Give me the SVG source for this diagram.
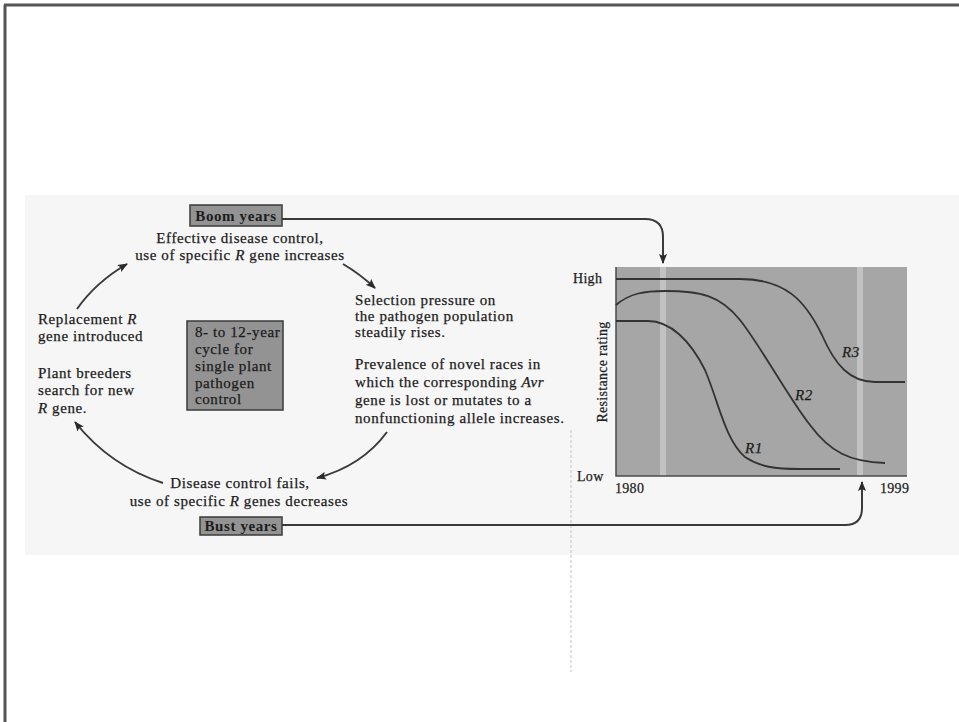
<svg xmlns="http://www.w3.org/2000/svg" width="959" height="722" viewBox="0 0 959 722">
  <defs>
    <marker id="head" viewBox="0 0 10 8" refX="9" refY="4" markerWidth="10" markerHeight="8" markerUnits="userSpaceOnUse" orient="auto">
      <path d="M0,0 L10,4 L0,8 L2,4 Z" fill="#2a2a2a"/>
    </marker>
    <style>
      text { font-family: "Liberation Serif", "Times New Roman", serif; font-size: 15px; fill: #1c1c1c; stroke: #1c1c1c; stroke-width: 0.25px; letter-spacing: 0.6px; }
      .mid { text-anchor: middle; }
      .tag { font-weight: bold; stroke-width: 0; }
      .box { fill: #939393; stroke: #3a3a3a; stroke-width: 1.5; }
      .link { fill: none; stroke: #3a3a3a; stroke-width: 2; marker-end: url(#head); }
      .curve { fill: none; stroke: #333; stroke-width: 1.8; }
      .ax { font-size: 14px; letter-spacing: 0.3px; }
    </style>
  </defs>

  <!-- page -->
  <rect x="0" y="0" width="959" height="722" fill="#ffffff"/>
  <rect x="25" y="195" width="934" height="360" fill="#f6f6f6"/>
  <path d="M4,5 H959 M5,5 V722" fill="none" stroke="#555" stroke-width="3"/>
  <line x1="571" y1="430" x2="571" y2="672" stroke="#c4c4c4" stroke-width="1" stroke-dasharray="3 2"/>

  <!-- cycle -->
  <g id="boom">
    <rect class="box" x="190" y="205" width="92" height="21"/>
    <text class="tag mid" x="236" y="221">Boom years</text>
  </g>
  <g id="effective">
    <text class="mid" x="240" y="243">Effective disease control,</text>
    <text class="mid" x="240" y="260">use of specific <tspan font-style="italic">R</tspan> gene increases</text>
  </g>
  <g id="selection">
    <text x="355" y="305">Selection pressure on</text>
    <text x="355" y="321">the pathogen population</text>
    <text x="355" y="337">steadily rises.</text>
  </g>
  <g id="prevalence">
    <text x="355" y="369">Prevalence of novel races in</text>
    <text x="355" y="387">which the corresponding <tspan font-style="italic">Avr</tspan></text>
    <text x="355" y="405">gene is lost or mutates to a</text>
    <text x="355" y="423">nonfunctioning allele increases.</text>
  </g>
  <g id="fails">
    <text class="mid" x="240" y="488">Disease control fails,</text>
    <text class="mid" x="239" y="506">use of specific <tspan font-style="italic">R</tspan> genes decreases</text>
  </g>
  <g id="bust">
    <rect class="box" x="200" y="517" width="82" height="18"/>
    <text class="tag mid" x="241" y="531">Bust years</text>
  </g>
  <g id="breeders">
    <text x="38" y="378">Plant breeders</text>
    <text x="38" y="395">search for new</text>
    <text x="38" y="413"><tspan font-style="italic">R</tspan> gene.</text>
  </g>
  <g id="replacement">
    <text x="38" y="324">Replacement <tspan font-style="italic">R</tspan></text>
    <text x="38" y="341">gene introduced</text>
  </g>
  <g id="cycle-length">
    <rect class="box" x="187" y="321" width="96" height="89"/>
    <text x="195" y="337">8- to 12-year</text>
    <text x="195" y="354">cycle for</text>
    <text x="195" y="371">single plant</text>
    <text x="195" y="388">pathogen</text>
    <text x="195" y="404">control</text>
  </g>

  <!-- resistance chart -->
  <g id="chart">
    <rect x="616" y="267" width="291" height="209" fill="#a6a6a6"/>
    <rect x="660" y="267" width="6" height="209" fill="#c2c2c2"/>
    <rect x="857" y="267" width="6" height="209" fill="#c2c2c2"/>
    <path d="M616,267 V476 H907" fill="none" stroke="#4a4a4a" stroke-width="1.5"/>
    <path class="curve" d="M616,279 H740 C785,279 805,300 822,335 C835,365 850,382 875,382 H905"/>
    <path class="curve" d="M616,305 C630,293 645,291 665,291 C700,291 720,295 740,320 C760,345 790,400 810,425 C830,452 850,462 885,463"/>
    <path class="curve" d="M616,321 H648 C670,321 690,340 705,370 C718,400 725,440 745,457 C760,467 775,469 800,469 H840"/>
    <text x="842" y="357" font-style="italic">R3</text>
    <text x="795" y="400" font-style="italic">R2</text>
    <text x="745" y="453" font-style="italic">R1</text>
    <text class="ax" x="573" y="283">High</text>
    <text class="ax" x="577" y="481">Low</text>
    <text class="ax" x="615" y="493">1980</text>
    <text class="ax" x="880" y="493">1999</text>
    <text class="ax mid" transform="translate(607,372) rotate(-90)">Resistance rating</text>
  </g>

  <!-- connectors -->
  <g id="connectors">
    <path class="link" d="M77,309 Q96,282 127,264"/>
    <path class="link" d="M343,264 Q360,274 375,288"/>
    <path class="link" d="M387,432 Q362,466 317,478"/>
    <path class="link" d="M163,483 Q110,466 75,422"/>
    <path class="link" d="M282,219 H645 Q663,219 663,237 V263"/>
    <path class="link" d="M282,525 H845 Q862,525 862,508 V482"/>
  </g>
</svg>
